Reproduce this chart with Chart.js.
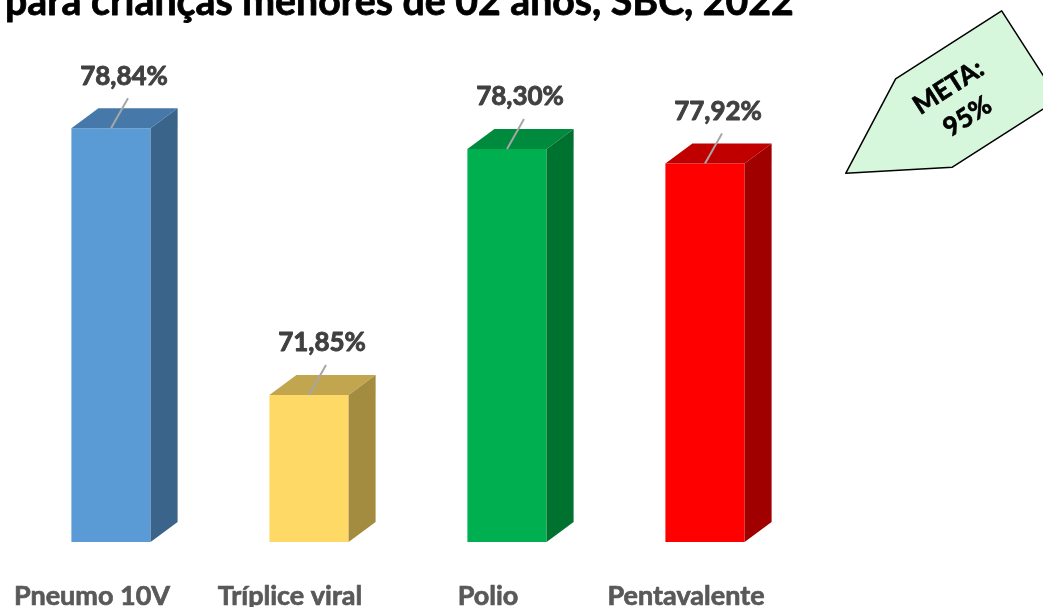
<!DOCTYPE html>
<html lang="pt">
<head>
<meta charset="UTF-8">
<title>Cobertura vacinal</title>
<script src="https://cdn.jsdelivr.net/npm/chart.js"></script>
<style>
  html, body { margin: 0; padding: 0; background: #ffffff; }
  #wrap { width: 1043px; height: 607px; position: relative; }
</style>
</head>
<body>
<div id="wrap"><canvas id="chart"></canvas></div>
<script>
// data
const categories = ['Pneumo 10V', 'Tríplice viral', 'Polio', 'Pentavalente'];
const coverage = [78.84, 71.85, 78.30, 77.92];
const frontColors = ['#5b9bd5', '#ffd966', '#00b050', '#ff0000'];
const topColors = ['#4679a9', '#c2a64f', '#008a3e', '#c00000'];
const sideColors = ['#3a6489', '#a38b3f', '#00722f', '#a00000'];
const titleText = 'para crianças menores de 02 anos, SBC, 2022';
const metaLines = ['META:', '95%'];

const FONT = 'Lato, "Open Sans", sans-serif';
const fmt = v => v.toFixed(2).replace('.', ',') + '%';

// bold text with a thin outline so it reads heavier, like the original
function heavyText(ctx, txt, x, y, color, w) {
  ctx.fillStyle = color;
  ctx.strokeStyle = color;
  ctx.lineWidth = w;
  ctx.lineJoin = 'round';
  ctx.fillText(txt, x, y);
  ctx.strokeText(txt, x, y);
}

// fake 3d: top and right faces behind each bar
const bars3d = {
  id: 'bars3d',
  afterDatasetsDraw(chart) {
    const ctx = chart.ctx;
    const meta = chart.getDatasetMeta(0);
    const bottom = chart.chartArea.bottom;
    const dx = 27, dy = -20;
    meta.data.forEach((bar, i) => {
      const l = bar.x - bar.width / 2, r = bar.x + bar.width / 2;
      const t = bar.y, b = Math.min(bar.base, bottom);
      ctx.save();
      ctx.fillStyle = topColors[i];
      ctx.beginPath();
      ctx.moveTo(l, t); ctx.lineTo(r, t); ctx.lineTo(r + dx, t + dy); ctx.lineTo(l + dx, t + dy);
      ctx.closePath(); ctx.fill();
      ctx.fillStyle = sideColors[i];
      ctx.beginPath();
      ctx.moveTo(r, t); ctx.lineTo(r + dx, t + dy); ctx.lineTo(r + dx, b + dy); ctx.lineTo(r, b);
      ctx.closePath(); ctx.fill();

      // leader line + value label
      ctx.strokeStyle = '#a6a6a6';
      ctx.lineWidth = 2;
      ctx.beginPath();
      ctx.moveTo(bar.x, t); ctx.lineTo(bar.x + 17, t - 30);
      ctx.stroke();
      ctx.font = 'bold 26px ' + FONT;
      ctx.textAlign = 'center';
      ctx.textBaseline = 'middle';
      heavyText(ctx, fmt(coverage[i]), bar.x + 13, t - 52, '#404040', 0.9);

      // category label
      ctx.font = 'bold 27px ' + FONT;
      ctx.textBaseline = 'alphabetic';
      heavyText(ctx, categories[i], bar.x - 19, 605, '#595959', 0.7);
      ctx.restore();
    });
  }
};

const decorations = {
  id: 'decorations',
  afterDraw(chart) {
    const ctx = chart.ctx;
    ctx.save();
    // title, cut at top as in original
    ctx.textAlign = 'left';
    ctx.textBaseline = 'alphabetic';
    let size = 34;
    ctx.font = 'bold ' + size + 'px ' + FONT;
    size = size * 789 / ctx.measureText(titleText).width;
    ctx.font = 'bold ' + size + 'px ' + FONT;
    heavyText(ctx, titleText, 5, 15, '#000000', 0.8);

    // META callout (pentagon arrow)
    ctx.translate(977, 89);
    ctx.rotate(-32.7 * Math.PI / 180);
    ctx.beginPath();
    ctx.moveTo(-63, -52.5); ctx.lineTo(63, -52.5); ctx.lineTo(63, 52.5);
    ctx.lineTo(-63, 52.5); ctx.lineTo(-156, 0); ctx.closePath();
    ctx.fillStyle = '#d7f7dd';
    ctx.fill();
    ctx.strokeStyle = '#000000';
    ctx.lineWidth = 1.5;
    ctx.stroke();
    ctx.font = 'bold 26px ' + FONT;
    ctx.textAlign = 'center';
    ctx.textBaseline = 'middle';
    heavyText(ctx, metaLines[0], -23, -17, '#000000', 0.7);
    heavyText(ctx, metaLines[1], -23, 18, '#000000', 0.7);
    ctx.restore();
  }
};

new Chart(document.getElementById('chart'), {
  type: 'bar',
  data: {
    labels: categories,
    datasets: [{
      data: coverage,
      backgroundColor: frontColors,
      borderWidth: 0,
      barPercentage: 0.4,
      categoryPercentage: 1.0
    }]
  },
  options: {
    responsive: true,
    maintainAspectRatio: false,
    animation: false,
    layout: { padding: { left: 12, right: 239, top: 84, bottom: 65 } },
    plugins: { legend: { display: false }, tooltip: { enabled: false } },
    scales: {
      x: { display: false },
      y: { display: false, min: 68, max: 80 }
    }
  },
  plugins: [bars3d, decorations]
});
</script>
</body>
</html>
